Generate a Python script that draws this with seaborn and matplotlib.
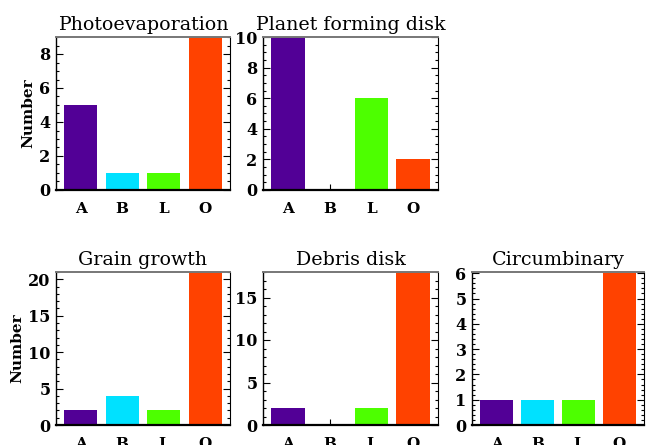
import matplotlib
matplotlib.use("Agg")
import matplotlib.pyplot as plt
from matplotlib.ticker import MultipleLocator
import seaborn as sns

sns.set_style("ticks")
plt.rcParams["font.family"] = ["DejaVu Serif"]
plt.rcParams.update({
    "text.color": "black",
    "axes.labelcolor": "black",
    "xtick.color": "black",
    "ytick.color": "black",
})

# Spectral classes on the x axis
classes = ["A", "B", "L", "O"]
class_colors = ["#520096", "#00E1FF", "#4DFF00", "#FF4200"]

# Counts per disk category
photoevaporation = [5, 1, 1, 9]
planet_forming = [10, 0, 6, 2]
grain_growth = [2, 4, 2, 21]
debris_disk = [2, 0, 2, 18]
circumbinary = [1, 1, 1, 6]

panels = [
    ("Photoevaporation", photoevaporation, 9, 2, 0.5, True),
    ("Planet forming disk", planet_forming, 10, 2, 0.5, False),
    ("Grain growth", grain_growth, 21, 5, 1, True),
    ("Debris disk", debris_disk, 18, 5, 1, False),
    ("Circumbinary", circumbinary, 6.05, 1, 0.2, False),
]

W, H = 646, 445
fig = plt.figure(figsize=(W / 100, H / 100), dpi=100)

# axes boxes in pixels: left, top, width, height
boxes = [
    (56, 37, 174, 153),
    (263, 37, 175, 153),
    (56, 272, 174, 153),
    (263, 272, 175, 153),
    (472, 272, 172, 153),
]

for (title, vals, ymax, major, minor, ylab), (l, t, w, h) in zip(panels, boxes):
    ax = fig.add_axes([l / W, 1 - (t + h) / H, w / W, h / H])
    sns.barplot(x=classes, y=vals, hue=classes, palette=class_colors,
                legend=False, width=0.8, saturation=1, linewidth=0,
                ax=ax, zorder=1)
    ax.set_xlim(-0.6, 3.6)
    ax.set_ylim(0, ymax)
    ax.yaxis.set_major_locator(MultipleLocator(major))
    ax.yaxis.set_minor_locator(MultipleLocator(minor))
    ax.tick_params(axis="y", which="both", direction="in", left=True, right=True,
                   width=0.8, color="black", labelsize=11.5, pad=4)
    ax.tick_params(axis="y", which="major", length=5)
    ax.tick_params(axis="y", which="minor", length=2.5)
    ax.tick_params(axis="x", which="major", direction="in", length=4, width=0.8,
                   bottom=True, top=False, labelsize=11, pad=9)
    for lbl in ax.get_yticklabels() + ax.get_xticklabels():
        lbl.set_fontweight("bold")
    for side in ("left", "right", "bottom"):
        ax.spines[side].set_visible(True)
        ax.spines[side].set_color("black")
    ax.spines["bottom"].set_linewidth(1.6)
    ax.spines["left"].set_linewidth(1.0)
    ax.spines["right"].set_linewidth(0.8)
    ax.spines["top"].set_visible(True)
    ax.spines["top"].set_color("#777777")
    ax.spines["top"].set_linewidth(1.4)
    ax.set_title(title, fontsize=13.7, pad=5)
    ax.set_xlabel("")
    if ylab:
        ax.set_ylabel("Number", fontsize=11, fontweight="bold", labelpad=3)
    else:
        ax.set_ylabel("")

fig.savefig("out.png", dpi=100)
